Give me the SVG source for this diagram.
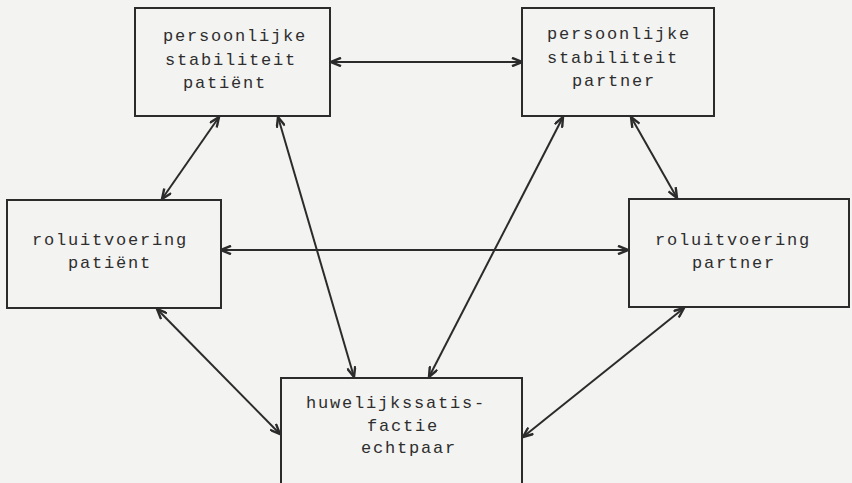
<svg xmlns="http://www.w3.org/2000/svg" width="852" height="483" viewBox="0 0 852 483">
<defs>
<style>
.box{fill:none;stroke:#2b2b2b;stroke-width:2}
.t{font-family:"Liberation Mono","DejaVu Sans Mono",monospace;font-size:17px;letter-spacing:1.8px;fill:#2e2e2e}
.c{stroke:#2b2b2b;stroke-width:2;fill:none;marker-start:url(#ah);marker-end:url(#ah)}
</style>
<marker id="ah" viewBox="0 0 12 10" refX="11" refY="5" markerWidth="12" markerHeight="10" markerUnits="userSpaceOnUse" orient="auto-start-reverse">
<path d="M1,0.8 L11,5 L1,9.2" fill="none" stroke="#2b2b2b" stroke-width="2.4"/>
</marker>
</defs>
<rect width="852" height="483" fill="#f3f3f1"/>
<g id="connectors">
<line class="c" x1="331" y1="62" x2="522" y2="62"/>
<line class="c" x1="219" y1="117" x2="162" y2="199"/>
<line class="c" x1="278" y1="117" x2="354" y2="377"/>
<line class="c" x1="563" y1="117" x2="429" y2="377"/>
<line class="c" x1="631" y1="117" x2="677" y2="198"/>
<line class="c" x1="221" y1="250" x2="628" y2="250"/>
<line class="c" x1="157" y1="309" x2="280" y2="434"/>
<line class="c" x1="684" y1="308" x2="523" y2="437"/>
</g>
<g id="n-stab-patient">
<rect class="box" x="135" y="8" width="195" height="108"/>
<text class="t" x="163" y="41">persoonlijke</text>
<text class="t" x="165" y="65">stabiliteit</text>
<text class="t" x="183" y="88">patiënt</text>
</g>
<g id="n-stab-partner">
<rect class="box" x="522" y="8" width="192" height="108"/>
<text class="t" x="547" y="39">persoonlijke</text>
<text class="t" x="547" y="63">stabiliteit</text>
<text class="t" x="572" y="86">partner</text>
</g>
<g id="n-rol-patient">
<rect class="box" x="7" y="200" width="214" height="108"/>
<text class="t" x="32" y="245">roluitvoering</text>
<text class="t" x="68" y="268">patiënt</text>
</g>
<g id="n-rol-partner">
<rect class="box" x="629" y="199" width="220" height="108"/>
<text class="t" x="655" y="245">roluitvoering</text>
<text class="t" x="692" y="268">partner</text>
</g>
<g id="n-huwelijk">
<rect class="box" x="281" y="378" width="241" height="120"/>
<text class="t" x="306" y="408">huwelijkssatis-</text>
<text class="t" x="367" y="431">factie</text>
<text class="t" x="361" y="453">echtpaar</text>
</g>
</svg>
